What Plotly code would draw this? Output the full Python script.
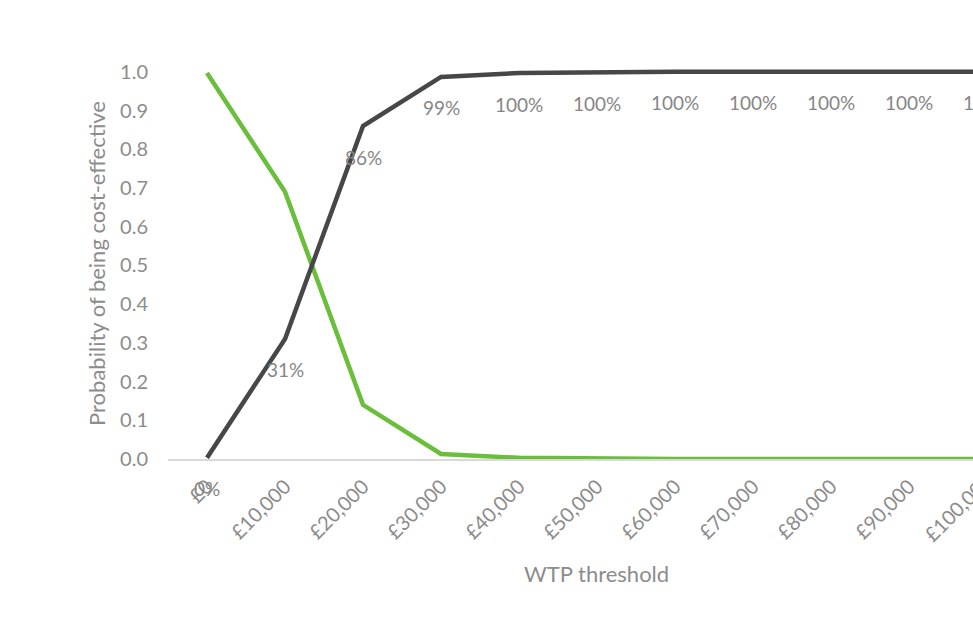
import plotly.graph_objects as go

categories = ["£0", "£10,000", "£20,000", "£30,000", "£40,000", "£50,000",
              "£60,000", "£70,000", "£80,000", "£90,000", "£100,000"]
intervention = [0.003, 0.31, 0.86, 0.987, 0.997, 0.999, 1.0, 1.0, 1.0, 1.0, 1.0]
comparator = [0.997, 0.69, 0.14, 0.013, 0.003, 0.001, 0.0, 0.0, 0.0, 0.0, 0.0]
y_ticks = [0.0, 0.1, 0.2, 0.3, 0.4, 0.5, 0.6, 0.7, 0.8, 0.9, 1.0]

FONT = "Lato"
GREY = "#8c8c8c"
X_RANGE = [-0.5, 9.82]
Y_RANGE = [0, 1.01]

fig = go.Figure()
fig.add_trace(go.Scatter(x=categories, y=comparator, mode="lines",
                         line=dict(color="#6abf3a", width=4.5), showlegend=False))
fig.add_trace(go.Scatter(x=categories, y=intervention, mode="lines",
                         line=dict(color="#474747", width=4.5), showlegend=False))


def paper_x(i):
    return (i - X_RANGE[0]) / (X_RANGE[1] - X_RANGE[0])


annotations = []
for i, v in enumerate(intervention):
    annotations.append(dict(
        x=paper_x(i), xref="paper", y=v, yref="y", yshift=-31,
        text=f"{round(v * 100)}%", showarrow=False,
        font=dict(family=FONT, size=19, color="#868686"),
        xanchor="center", yanchor="middle"))

# last category tick label lies past the visible edge
annotations.append(dict(
    x=paper_x(len(categories) - 1), xref="paper", y=0, yref="paper",
    text=categories[-1], textangle=-45, showarrow=False,
    font=dict(family=FONT, size=20, color=GREY),
    xanchor="center", yanchor="middle", xshift=-29, yshift=-48))

annotations.append(dict(
    x=(596 - 168) / (973 - 168), xref="paper", y=0, yref="paper",
    yshift=-114, text="WTP threshold", showarrow=False,
    font=dict(family=FONT, size=22, color=GREY),
    xanchor="center", yanchor="middle"))

fig.update_layout(
    width=973, height=620,
    margin=dict(l=168, r=0, t=68, b=161),
    paper_bgcolor="white", plot_bgcolor="white",
    annotations=annotations,
    xaxis=dict(type="category", range=X_RANGE, showgrid=False,
               showline=True, linecolor="#d9d9d9", linewidth=2,
               tickangle=-45, ticks="", ticklabelstandoff=6,
               tickfont=dict(family=FONT, size=20, color=GREY),
               zeroline=False),
    yaxis=dict(range=Y_RANGE, tickvals=y_ticks,
               ticktext=[f"{t:.1f}" for t in y_ticks],
               showgrid=False, zeroline=False, showline=False,
               ticks="", ticklabelstandoff=19,
               tickfont=dict(family=FONT, size=20, color=GREY),
               title=dict(text="Probability of being cost-effective",
                          font=dict(family=FONT, size=22, color=GREY),
                          standoff=8)),
)

fig.write_html("out.html")
